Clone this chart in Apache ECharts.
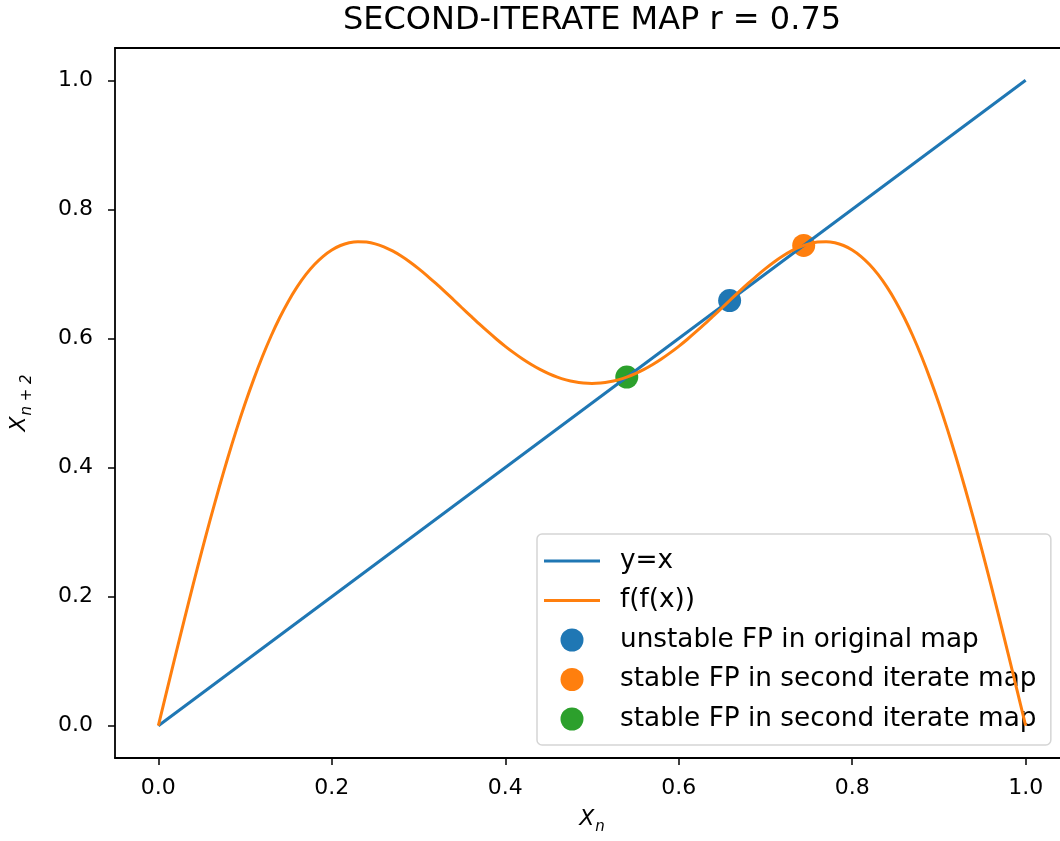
<!DOCTYPE html>
<html>
<head>
<meta charset="utf-8">
<script src="https://cdn.jsdelivr.net/npm/echarts@6/dist/echarts.min.js"></script>
<style>
html,body{margin:0;padding:0;background:#fff;}
#chart{width:1060px;height:841px;}
</style>
</head>
<body>
<div id="chart"></div>
<script>
// ---- data ----
const titleText = 'SECOND-ITERATE MAP r = 0.75';
const xValues = [0.00,0.01,0.02,0.03,0.04,0.05,0.06,0.07,0.08,0.09,0.10,0.11,0.12,0.13,0.14,0.15,0.16,0.17,0.18,0.19,
                 0.20,0.21,0.22,0.23,0.24,0.25,0.26,0.27,0.28,0.29,0.30,0.31,0.32,0.33,0.34,0.35,0.36,0.37,0.38,0.39,
                 0.40,0.41,0.42,0.43,0.44,0.45,0.46,0.47,0.48,0.49,0.50,0.51,0.52,0.53,0.54,0.55,0.56,0.57,0.58,0.59,
                 0.60,0.61,0.62,0.63,0.64,0.65,0.66,0.67,0.68,0.69,0.70,0.71,0.72,0.73,0.74,0.75,0.76,0.77,0.78,0.79,
                 0.80,0.81,0.82,0.83,0.84,0.85,0.86,0.87,0.88,0.89,0.90,0.91,0.92,0.93,0.94,0.95,0.96,0.97,0.98,0.99,1.00];
const ffValues = [0.0000,0.0555,0.1106,0.1649,0.2183,0.2702,0.3205,0.3687,0.4148,0.4583,
                  0.4991,0.5370,0.5720,0.6038,0.6324,0.6578,0.6799,0.6989,0.7146,0.7273,
                  0.7371,0.7440,0.7482,0.7499,0.7493,0.7466,0.7419,0.7356,0.7277,0.7185,
                  0.7082,0.6971,0.6852,0.6729,0.6604,0.6476,0.6350,0.6225,0.6104,0.5988,
                  0.5878,0.5776,0.5681,0.5596,0.5520,0.5455,0.5401,0.5359,0.5328,0.5310,
                  0.5303,0.5310,0.5328,0.5359,0.5401,0.5455,0.5520,0.5596,0.5681,0.5776,
                  0.5878,0.5988,0.6104,0.6225,0.6350,0.6476,0.6604,0.6729,0.6852,0.6971,
                  0.7082,0.7185,0.7277,0.7356,0.7419,0.7466,0.7493,0.7499,0.7482,0.7440,
                  0.7371,0.7273,0.7146,0.6989,0.6799,0.6578,0.6324,0.6038,0.5720,0.5370,
                  0.4991,0.4583,0.4148,0.3687,0.3205,0.2702,0.2183,0.1649,0.1106,0.0555,0.0000];
const identityX = [0, 1];
const identityY = [0, 1];
const unstableFP = [0.6587, 0.6587];
const stableFP1 = [0.7441, 0.7441];
const stableFP2 = [0.5401, 0.5401];
const tickValues = [0.0, 0.2, 0.4, 0.6, 0.8, 1.0];
const seriesNames = ['y=x', 'f(f(x))', 'unstable FP in original map', 'stable FP in second iterate map', 'stable FP in second iterate map '];
const colors = ['#1f77b4', '#ff7f0e', '#1f77b4', '#ff7f0e', '#2ca02c'];

const FONT = "'DejaVu Sans', sans-serif";
const chart = echarts.init(document.getElementById('chart'), null, {renderer: 'canvas'});

const axisCommon = {
  type: 'value',
  min: -0.05,
  max: 1.05,
  splitLine: {show: false},
  axisLine: {show: true, onZero: false, lineStyle: {color: '#000', width: 1.8}},
  axisTick: {show: true, customValues: tickValues, length: 7, inside: false, lineStyle: {color: '#000', width: 1.5}},
  axisLabel: {customValues: tickValues, formatter: v => v.toFixed(1), fontSize: 22, fontFamily: FONT, color: '#000'},
  nameLocation: 'middle',
  nameMoveOverlap: false
};
const nameRich = {
  x: {fontSize: 22, fontStyle: 'italic', fontFamily: FONT, color: '#000', verticalAlign: 'bottom', padding: [0, 1, 5, 0]},
  s: {fontSize: 15, fontStyle: 'italic', fontFamily: FONT, color: '#000', verticalAlign: 'bottom'}
};
const lineIcon = 'path://M0,0H56V3H0Z';

const option = {
  animation: false,
  backgroundColor: '#fff',
  graphic: [{
    type: 'text', x: 592, y: 21,
    style: {text: titleText, font: "32px 'DejaVu Sans', sans-serif", fill: '#000', textAlign: 'center', textVerticalAlign: 'middle'}
  }],
  grid: {left: 115, top: 48, width: 954, bottom: 83, outerBoundsMode: 'none', containLabel: false, show: false},
  xAxis: [
    Object.assign({}, axisCommon, {
      position: 'bottom',
      axisLabel: Object.assign({}, axisCommon.axisLabel, {margin: 19}),
      name: '{x|X}{s|n}',
      nameGap: 50,
      nameTextStyle: {rich: nameRich}
    }),
    {
      type: 'value', position: 'top', min: -0.05, max: 1.05,
      axisLine: {show: true, onZero: false, lineStyle: {color: '#000', width: 1.8}},
      axisTick: {show: false}, axisLabel: {show: false}, splitLine: {show: false}
    }
  ],
  yAxis: Object.assign({}, axisCommon, {
    axisLabel: Object.assign({}, axisCommon.axisLabel, {margin: 22}),
    name: '{x|X}{s|n + 2}',
    nameGap: 80,
    nameTextStyle: {rich: nameRich}
  }),
  legend: {
    orient: 'vertical',
    left: 537,
    top: 534,
    padding: [14, 6, 13, 7],
    itemWidth: 56,
    itemHeight: 23,
    itemGap: 13.5,
    selectedMode: false,
    backgroundColor: '#fff',
    borderColor: '#d5d5d5',
    borderWidth: 1.5,
    borderRadius: 5,
    textStyle: {fontSize: 26.3, lineHeight: 23, fontFamily: FONT, color: '#000', padding: [0, 0, 0, 15]},
    data: [
      {name: seriesNames[0], icon: lineIcon},
      {name: seriesNames[1], icon: lineIcon},
      {name: seriesNames[2], icon: 'circle'},
      {name: seriesNames[3], icon: 'circle'},
      {name: seriesNames[4], icon: 'circle'}
    ]
  },
  series: [
    {
      name: seriesNames[0], type: 'line', z: 3, symbol: 'none', showSymbol: false,
      data: identityX.map((x, i) => [x, identityY[i]]),
      lineStyle: {color: colors[0], width: 3}, itemStyle: {color: colors[0]}
    },
    {
      name: seriesNames[1], type: 'line', z: 4, symbol: 'none', showSymbol: false, smooth: 0.3,
      data: xValues.map((x, i) => [x, ffValues[i]]),
      lineStyle: {color: colors[1], width: 3}, itemStyle: {color: colors[1]}
    },
    {
      name: seriesNames[2], type: 'scatter', z: 1, symbolSize: 23,
      data: [unstableFP], itemStyle: {color: colors[2], opacity: 1}
    },
    {
      name: seriesNames[3], type: 'scatter', z: 1, symbolSize: 23,
      data: [stableFP1], itemStyle: {color: colors[3], opacity: 1}
    },
    {
      name: seriesNames[4], type: 'scatter', z: 1, symbolSize: 23,
      data: [stableFP2], itemStyle: {color: colors[4], opacity: 1}
    }
  ]
};
chart.setOption(option);
</script>
</body>
</html>
